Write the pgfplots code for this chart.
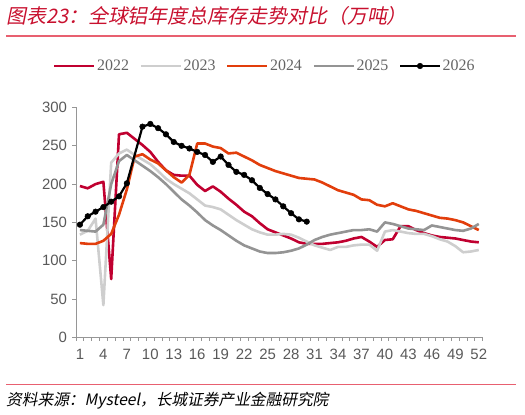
\documentclass[border=0pt]{standalone}
\usepackage{pgfplots}
\pgfplotsset{compat=1.18}
\usepackage{pgfplotstable}
\usepackage{fontspec}
\setmainfont{Liberation Serif}
\newfontfamily\arial{Liberation Sans}
\newfontfamily\cjk{Noto Sans CJK SC}[FakeSlant=0.2]

\definecolor{c22}{RGB}{192,0,48}
\definecolor{c23}{RGB}{206,206,206}
\definecolor{c24}{RGB}{226,62,12}
\definecolor{c25}{RGB}{148,148,148}
\definecolor{ttl}{RGB}{200,16,46}
\definecolor{rulec}{RGB}{232,96,112}
\definecolor{tk}{RGB}{89,89,89}
\definecolor{lg}{RGB}{100,100,100}
\definecolor{axc}{RGB}{150,150,150}

\pgfplotstableread{
w a22 a23 a24 a25
1 197.5 134 123 140
2 194.5 139 122 139
3 200 155 122 138
4 203 42 126 147
5 76 228 135 200
6 265 240 160 230
7 267 245 193 238
8 259 238 236 231
9 251 232 239 224
10 242 226 232 217
11 229 217 227 209
12 218 207 218 200
13 212 200 209 190
14 211 194 202 180
15 211 188 212 172
16 199 180 253 163
17 191 172 253 153
18 197 170 249 146
19 190 167 247 140
20 181 160 240 133
21 173 153 241 126
22 164 147 236 120
23 158 141 231 116
24 149 137 225 112
25 141 134 221 110
26 137 134 217 110
27 133 135 214 111
28 129 134 211 113
29 124 130 208 116
30 122 125 207 121
31 122 120 206 127
32 122 117 202 131
33 123 114 197 134
34 124 118 192 136
35 126 118 189 138
36 129 120 186 140
37 131 121 180 140
38 125 121 179 141
39 118 113 173 138
40 127 138 171 150
41 128 140 175 148
42 145 138 171 145
43 145 136 167 142
44 140 135 165 141
45 136 135 162 140
46 133 132 159 146
47 131 128 156 144
48 130 125 155 142
49 129 119 153 140
50 127 111 150 139
51 125 112 145 142
52 124 114 140 148
}\tbl

\pgfplotstableread{
w a26
1 147
2 158
3 164
4 170
5 177
6 184
7 201
9 275
10 278.5
11 273
12 265
13 255
14 250
15 246.5
16 242
17 238
18 229
19 236
20 225
21 216
22 212
23 205
24 195
25 187
26 180
27 171
28 162
29 154
30 151
}\tblb

\begin{document}
\begin{tikzpicture}[x=1bp,y=1bp]
\path[use as bounding box] (0bp,0bp) rectangle (525bp,415bp);
\node[anchor=base west, inner sep=0, text=ttl, font=\cjk\fontsize{20}{21}\selectfont] at (6bp,391.5bp) {图表23：全球铝年度总库存走势对比（万吨）};
\draw[rulec, line width=1.5bp] (6bp,379bp) -- (516bp,379bp);
\draw[rulec, line width=1.5bp] (6bp,30.3bp) -- (516bp,30.3bp);
\node[anchor=base west, inner sep=0, font=\cjk\fontsize{15.75}{16}\selectfont] at (6bp,10bp) {资料来源：Mysteel，长城证券产业金融研究院};
\begin{axis}[
  at={(76bp,77.7bp)}, anchor=south west, scale only axis,
  width=406.7bp, height=229.8bp,
  xmin=0.5, xmax=52.5, ymin=0, ymax=300,
  axis x line*=bottom, axis y line*=left,
  axis line style={axc, line width=0.8bp, -},
  xtick={1,4,...,52}, ytick={0,50,...,300},
  minor xtick={0.5,1.5,...,52.5},
  tick align=outside,
  major tick length=4bp, minor tick length=3.5bp,
  tick style={axc, line width=0.8bp},
  major x tick style={draw=none},
  tick label style={font=\arial\fontsize{15}{15}\selectfont, text=tk},
  xticklabel style={yshift=-4bp},
  yticklabel style={xshift=-1.5bp},
  /pgf/number format/assume math mode=true,
  legend columns=5,
  legend style={at={(-0.057,1.1806)}, anchor=west, draw=none, fill=none, inner sep=0pt,
    font=\fontsize{16}{16}\selectfont, text=lg,
    nodes={inner xsep=1.5bp, inner ysep=0.5bp},
    /tikz/every even column/.append style={column sep=9bp}},
  legend image code/.code={\draw[mark repeat=2,mark phase=2,#1] plot coordinates {(0bp,0bp) (20bp,0bp) (40bp,0bp)};},
]
\addplot[c22, line width=2.6bp, line join=round] table[x=w, y=a22] {\tbl};
\addplot[c23, line width=2.6bp, line join=round] table[x=w, y=a23] {\tbl};
\addplot[c24, line width=2.6bp, line join=round] table[x=w, y=a24] {\tbl};
\addplot[c25, line width=2.6bp, line join=round] table[x=w, y=a25] {\tbl};
\addplot[black, line width=2.2bp, line join=round, mark=*, mark size=2.8bp, mark options={fill=black, line width=0.5bp}] table[x=w, y=a26] {\tblb};
\legend{2022,2023,2024,2025,2026}
\end{axis}
\end{tikzpicture}
\end{document}
